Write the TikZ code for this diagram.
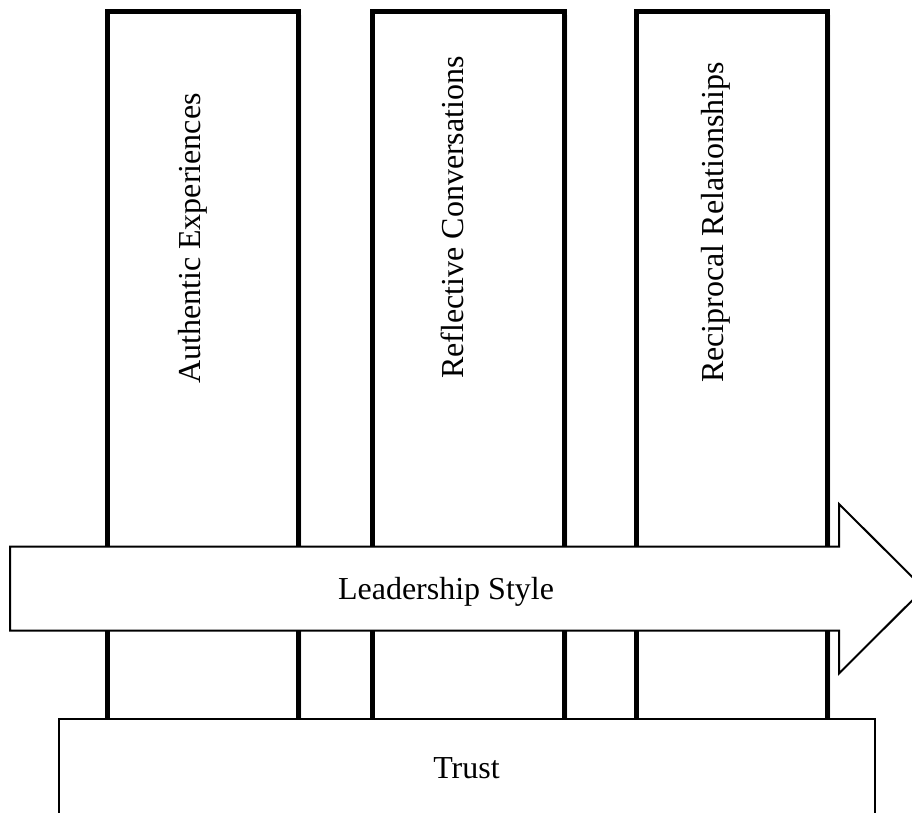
\documentclass[tikz,border=0pt]{standalone}
\usepackage{fontspec}
\setmainfont{Liberation Serif}
\begin{document}
\begin{tikzpicture}[x=1pt,y=-1pt,
  pillar/.style={draw=black, fill=white, line width=5pt, rectangle, inner sep=0pt},
  baseframe/.style={draw=black, fill=white, line width=2pt, rectangle, inner sep=0pt},
  arrowbody/.style={draw=black, fill=white, line width=2pt, line join=miter},
  lbl/.style={font=\fontsize{32}{38}\selectfont, inner sep=0pt, anchor=base},
  vlbl/.style={lbl, rotate=90},
  shadowlayer/.style={fill=black, opacity=0.1, draw=none}
]
\useasboundingbox (0,0) rectangle (912,812);
\clip (0,0) rectangle (912,812);
\fill[white] (0,0) rectangle (912,812);

% pillar shadows
\foreach \s in {1,2,3} {
  \fill[shadowlayer, opacity=0.06] (107+\s,11.7+\s) rectangle (298.5+\s,740);
  \fill[shadowlayer, opacity=0.06] (372+\s,11.7+\s) rectangle (564.5+\s,740);
  \fill[shadowlayer, opacity=0.06] (636+\s,11.7+\s) rectangle (827.5+\s,740);
}

% pillars
\node[pillar, minimum width=191.5pt, minimum height=728.3pt] (p1) at (202.75,375.85) {};
\node[pillar, minimum width=192.5pt, minimum height=728.3pt] (p2) at (468.25,375.85) {};
\node[pillar, minimum width=191.5pt, minimum height=728.3pt] (p3) at (731.75,375.85) {};

\node[vlbl] (l1) at (200,238.5) {Authentic Experiences};
\node[vlbl] (l2) at (463,217.5) {Reflective Conversations};
\node[vlbl] (l3) at (723,222.5) {Reciprocal Relationships};

% trust base
\node[baseframe, minimum width=816.3pt, minimum height=120pt] (trust) at (466.85,779) {};
\node[lbl] (trustlbl) at (466.5,778) {Trust};

% arrow coordinates
\coordinate (a1) at (10,546.7);
\coordinate (a2) at (839,546.7);
\coordinate (a3) at (839,504);
\coordinate (tip) at (924,588.7);
\coordinate (a4) at (839,673.4);
\coordinate (a5) at (839,630.7);
\coordinate (a6) at (10,630.7);

% arrow shadow
\foreach \s in {1,2,3,4,5,6} {
  \fill[shadowlayer, shift={(0.6*\s,1.0*\s)}] (a1) -- (a2) -- (a3) -- (tip) -- (a4) -- (a5) -- (a6) -- cycle;
}
\draw[arrowbody] (a1) -- (a2) -- (a3) -- (tip) -- (a4) -- (a5) -- (a6) -- cycle;
\node[lbl] (lead) at (446,599) {Leadership Style};
\end{tikzpicture}
\end{document}
